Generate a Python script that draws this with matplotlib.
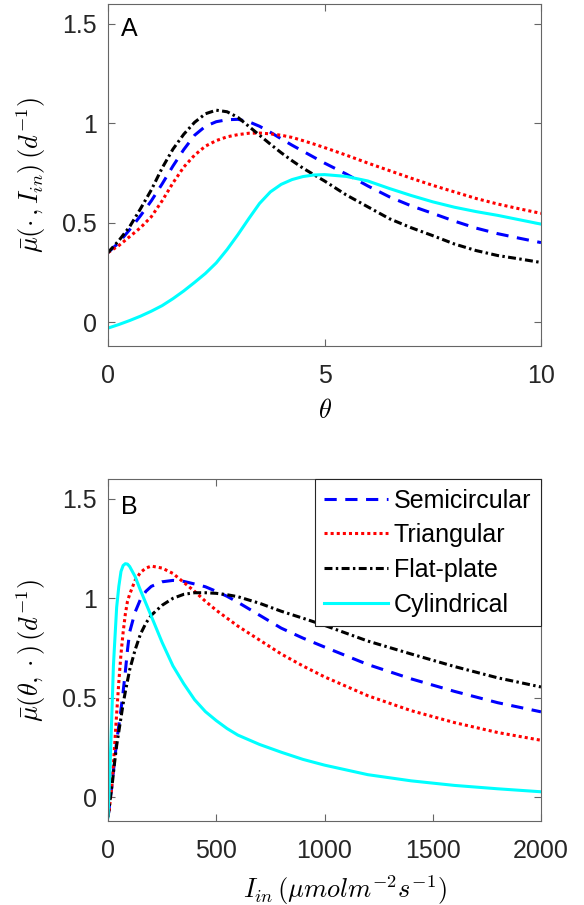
import matplotlib
matplotlib.use("Agg")
import matplotlib.pyplot as plt

plt.rcParams['font.family'] = ['Liberation Sans', 'DejaVu Sans']
plt.rcParams['mathtext.fontset'] = 'cm'

# ---------------- data: panel A ----------------
theta = [0, 0.25, 0.5, 0.75, 1, 1.25, 1.5, 1.75, 2, 2.25, 2.5, 2.75, 3, 3.25, 3.5, 3.75, 4,
         4.25, 4.5, 4.75, 5, 5.5, 6, 6.5, 7, 7.5, 8, 8.5, 9, 9.5, 10]
semi_A = [0.35, 0.40, 0.465, 0.535, 0.61, 0.695, 0.785, 0.868, 0.94, 0.985, 1.008, 1.018, 1.02,
          1.008, 0.985, 0.955, 0.922, 0.89, 0.86, 0.83, 0.80,
          0.745, 0.685, 0.63, 0.585, 0.547, 0.508, 0.473, 0.445, 0.422, 0.40]
tri_A = [0.35, 0.385, 0.43, 0.475, 0.53, 0.61, 0.70, 0.78, 0.84, 0.885, 0.913, 0.932, 0.943,
         0.95, 0.951, 0.947, 0.94, 0.929, 0.913, 0.896, 0.878,
         0.84, 0.80, 0.762, 0.724, 0.688, 0.655, 0.622, 0.594, 0.57, 0.547]
flat_A = [0.35, 0.41, 0.48, 0.57, 0.665, 0.775, 0.87, 0.945, 1.005, 1.048, 1.066, 1.058, 1.03,
          0.985, 0.94, 0.895, 0.852, 0.812, 0.775, 0.742, 0.71,
          0.64, 0.58, 0.52, 0.475, 0.435, 0.393, 0.36, 0.335, 0.318, 0.30]
cyl_A = [-0.03, -0.012, 0.008, 0.03, 0.055, 0.083, 0.118, 0.157, 0.20, 0.245, 0.298, 0.365, 0.44,
         0.52, 0.597, 0.655, 0.693, 0.717, 0.732, 0.74, 0.742,
         0.733, 0.71, 0.672, 0.637, 0.605, 0.578, 0.556, 0.537, 0.515, 0.493]

# ---------------- data: panel B ----------------
I_in = [0, 5, 10, 15, 20, 25, 30, 40, 50, 60, 70, 80, 90, 100, 125, 150, 175, 200, 250, 300,
        350, 400, 450, 500, 550, 600, 700, 800, 900, 1000, 1200, 1400, 1600, 1800, 2000]
semi_B = [-0.1, -0.06, -0.01, 0.03, 0.08, 0.13, 0.18, 0.28, 0.36, 0.44, 0.53, 0.63, 0.74, 0.83,
          0.93, 0.995, 1.035, 1.06, 1.083, 1.09, 1.085, 1.072, 1.058, 1.035, 1.01, 0.98, 0.915,
          0.85, 0.80, 0.755, 0.667, 0.595, 0.532, 0.475, 0.429]
tri_B = [-0.1, -0.07, -0.02, 0.03, 0.09, 0.165, 0.25, 0.42, 0.58, 0.72, 0.83, 0.92, 0.985, 1.02,
         1.09, 1.13, 1.152, 1.162, 1.152, 1.125, 1.08, 1.035, 0.985, 0.94, 0.90, 0.86, 0.79,
         0.72, 0.66, 0.605, 0.51, 0.435, 0.375, 0.325, 0.286]
flat_B = [-0.1, -0.06, -0.01, 0.03, 0.07, 0.12, 0.17, 0.26, 0.33, 0.40, 0.47, 0.53, 0.585, 0.64,
          0.74, 0.82, 0.875, 0.915, 0.965, 1.0, 1.02, 1.028, 1.028, 1.025, 1.018, 1.008, 0.975,
          0.935, 0.90, 0.864, 0.785, 0.72, 0.657, 0.60, 0.554]
cyl_B = [-0.1, 0.03, 0.17, 0.33, 0.49, 0.66, 0.76, 0.955, 1.06, 1.135, 1.165, 1.174, 1.172, 1.16,
         1.11, 1.04, 0.975, 0.91, 0.778, 0.66, 0.57, 0.49, 0.43, 0.385, 0.345, 0.312, 0.265,
         0.226, 0.19, 0.161, 0.113, 0.082, 0.059, 0.042, 0.027]

labels = ['Semicircular', 'Triangular', 'Flat-plate', 'Cylindrical']
yticks = [0, 0.5, 1, 1.5]
ytick_labels = ['0', '0.5', '1', '1.5']
xticks_A = [0, 5, 10]
xticks_B = [0, 500, 1000, 1500, 2000]

lw = 2.2
styles = [
    dict(color='#0000ff', linestyle=(0, (4.0, 2.8))),
    dict(color='#ff0000', linestyle=(0, (1.0, 1.0))),
    dict(color='#000000', linestyle=(0, (2.6, 1.1, 0.8, 1.1))),
    dict(color='#00ffff', linestyle='-'),
]

W, H = 584, 905
fig = plt.figure(figsize=(W / 100, H / 100), dpi=100)
axA = fig.add_axes([108 / W, 1 - 346 / H, 433 / W, 342 / H])
axB = fig.add_axes([108 / W, 1 - 821 / H, 433 / W, 342 / H])

edge = '#666666'
tickc = '#262626'

for ys, st, lb in zip([semi_A, tri_A, flat_A, cyl_A], styles, labels):
    axA.plot(theta, ys, lw=lw, label=lb, **st)
for ys, st, lb in zip([semi_B, tri_B, flat_B, cyl_B], styles, labels):
    axB.plot(I_in, ys, lw=lw, label=lb, **st)

for ax, xt in ((axA, xticks_A), (axB, xticks_B)):
    ax.set_ylim(-0.12, 1.6)
    ax.set_xticks(xt)
    ax.set_xticklabels([str(v) for v in xt])
    ax.set_yticks(yticks)
    ax.set_yticklabels(ytick_labels)
    ax.tick_params(direction='in', top=True, right=True, length=5, width=0.8,
                   colors=edge, labelcolor=tickc, labelsize=18)
    ax.tick_params(axis='x', pad=13)
    ax.tick_params(axis='y', pad=8)
    for s in ax.spines.values():
        s.set_color(edge)
        s.set_linewidth(0.8)

axA.set_xlim(0, 10)
axB.set_xlim(0, 2000)

axA.set_xlabel(r'$\theta$', fontsize=19)
axA.xaxis.set_label_coords(0.5, -(411 - 346) / 342)
axA.xaxis.label.set_va('center')
axA.set_ylabel(r'$\bar{\mu}(\cdot\,,I_{in})\,(d^{-1})$', fontsize=19)
axA.yaxis.set_label_coords(-(108 - 31) / 433, 0.5)
axA.yaxis.label.set_va('center')

axB.set_xlabel(r'$I_{in}\,(\mu mol m^{-2} s^{-1})$', fontsize=19)
axB.xaxis.set_label_coords(0.548, -(890 - 821) / 342)
axB.xaxis.label.set_va('center')
axB.set_ylabel(r'$\bar{\mu}(\theta,\cdot)\,(d^{-1})$', fontsize=19)
axB.yaxis.set_label_coords(-(108 - 31) / 433, 0.5)
axB.yaxis.label.set_va('center')

axA.text(0.03, 0.906, 'A', transform=axA.transAxes, fontsize=18, color='black', va='baseline')
axB.text(0.03, 0.898, 'B', transform=axB.transAxes, fontsize=18, color='black', va='baseline')

leg = axB.legend(loc='upper right', fontsize=18, borderaxespad=0, fancybox=False,
                 edgecolor='#262626', framealpha=1, handlelength=2.55, handletextpad=0.25,
                 labelspacing=0.43, borderpad=0.38)
leg.get_frame().set_linewidth(0.8)

fig.savefig('out.png', dpi=100)
